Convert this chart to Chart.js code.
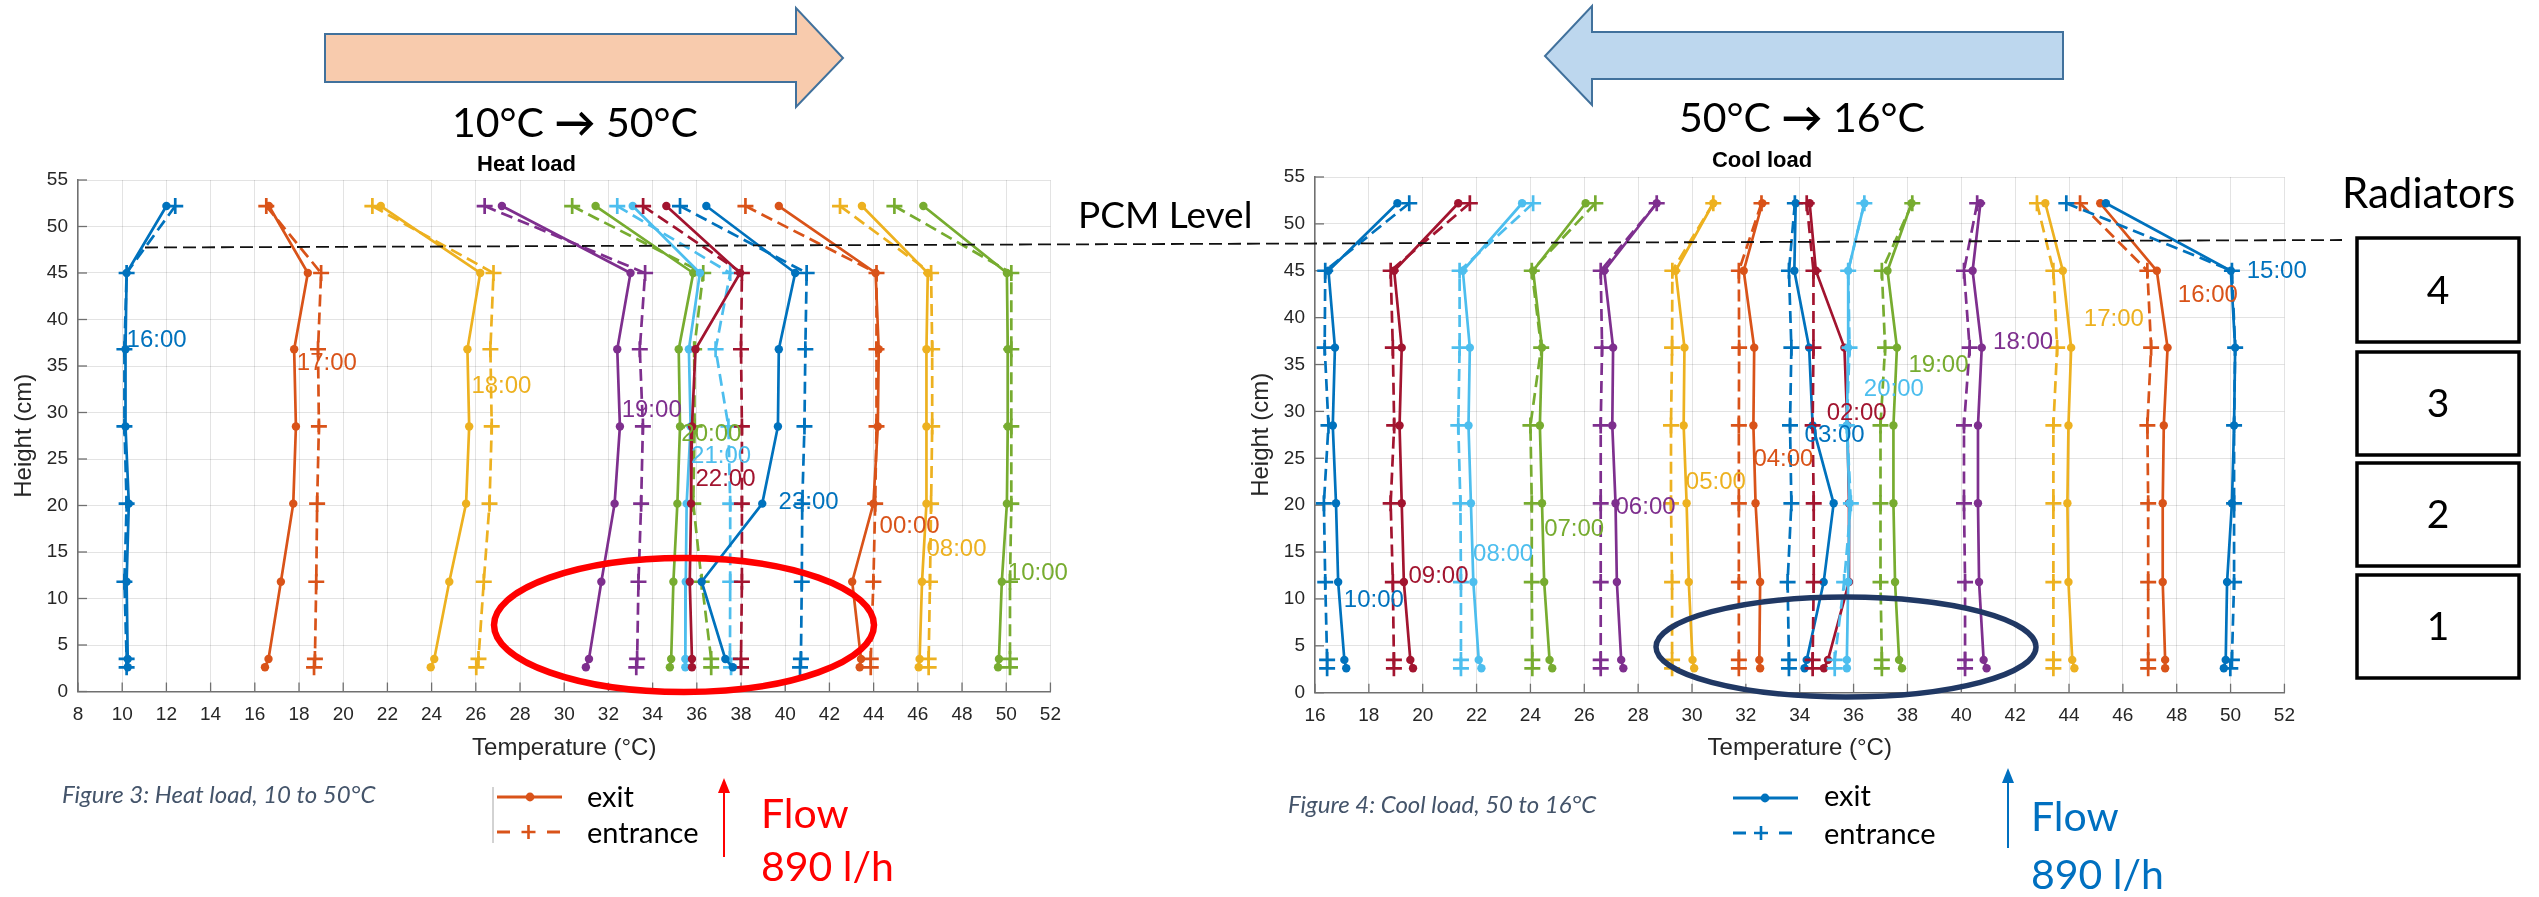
<!DOCTYPE html>
<html>
<head>
<meta charset="utf-8">
<script src="https://cdn.jsdelivr.net/npm/chart.js@4.4.1/dist/chart.umd.min.js"></script>
<style>
  html, body { margin: 0; padding: 0; background: #fff; }
  body { width: 2539px; height: 897px; position: relative; overflow: hidden; }
  canvas { position: absolute; }
  #heat { left: 0; top: 140px; }
  #cool { left: 1237px; top: 140px; }
  svg { position: absolute; left: 0; top: 0; font-family: Lato, "Open Sans", sans-serif; }
</style>
</head>
<body>
<canvas id="heat" width="1073" height="660"></canvas>
<canvas id="cool" width="1070" height="660"></canvas>

<svg width="2539" height="897">
  <!-- big direction arrows -->
  <polygon points="325,34 796,34 796,8 843,58 796,107 796,82 325,82" fill="#F8CBAD" stroke="#41719C" stroke-width="2"/>
  <polygon points="2063,32 1592,32 1592,6 1545,56 1592,105 1592,79 2063,79" fill="#BDD7EE" stroke="#41719C" stroke-width="2"/>
  <text x="575" y="137" font-size="41" text-anchor="middle">10°C <tspan font-weight="bold">→</tspan> 50°C</text>
  <text x="1802" y="132" font-size="41" text-anchor="middle">50°C <tspan font-weight="bold">→</tspan> 16°C</text>

  <!-- PCM level -->
  <line x1="145" y1="247.5" x2="2342" y2="240" stroke="#111" stroke-width="1.8" stroke-dasharray="13 6"/>
  <text x="1078" y="228" font-size="37">PCM Level</text>

  <!-- radiators -->
  <text x="2342" y="208" font-size="42">Radiators</text>
  <g fill="none" stroke="#000" stroke-width="3.5">
    <rect x="2357" y="238" width="162" height="104"/>
    <rect x="2357" y="352" width="162" height="103"/>
    <rect x="2357" y="463" width="162" height="103"/>
    <rect x="2357" y="575" width="162" height="103"/>
  </g>
  <g font-size="39" text-anchor="middle">
    <text x="2438" y="304">4</text>
    <text x="2438" y="417">3</text>
    <text x="2438" y="528">2</text>
    <text x="2438" y="640">1</text>
  </g>

  <!-- highlight ellipses -->
  <ellipse cx="684" cy="625" rx="190" ry="67" fill="none" stroke="#FF0000" stroke-width="6.5"/>
  <ellipse cx="1846" cy="647" rx="190" ry="50" fill="none" stroke="#203864" stroke-width="5.5"/>

  <!-- captions -->
  <text x="62" y="803" font-size="24" font-style="italic" fill="#44546A">Figure 3: Heat load, 10 to 50°C</text>
  <text x="1288" y="813" font-size="24" font-style="italic" fill="#44546A">Figure 4: Cool load, 50 to 16°C</text>

  <!-- left legend -->
  <line x1="493" y1="787" x2="493" y2="843" stroke="#a6a6a6" stroke-width="1"/>
  <line x1="497" y1="797" x2="562" y2="797" stroke="#D95319" stroke-width="3"/>
  <circle cx="530" cy="797" r="4.4" fill="#D95319"/>
  <line x1="497" y1="832" x2="510" y2="832" stroke="#D95319" stroke-width="3"/>
  <line x1="547" y1="832" x2="560" y2="832" stroke="#D95319" stroke-width="3"/>
  <path d="M521.5 832 H535.5 M528.5 825 V839" stroke="#D95319" stroke-width="2.6"/>
  <text x="587" y="807" font-size="29">exit</text>
  <text x="587" y="843" font-size="29">entrance</text>

  <!-- left flow arrow -->
  <line x1="724" y1="857" x2="724" y2="790" stroke="#FF0000" stroke-width="2"/>
  <polygon points="724,778 718,793 730,793" fill="#FF0000"/>
  <text x="761" y="828" font-size="41" fill="#FF0000">Flow</text>
  <text x="761" y="881" font-size="41" fill="#FF0000">890 l/h</text>

  <!-- right legend -->
  <line x1="1733" y1="798" x2="1798" y2="798" stroke="#0072BD" stroke-width="3"/>
  <circle cx="1765" cy="798" r="4.4" fill="#0072BD"/>
  <line x1="1733" y1="833" x2="1746" y2="833" stroke="#0072BD" stroke-width="3"/>
  <line x1="1779" y1="833" x2="1792" y2="833" stroke="#0072BD" stroke-width="3"/>
  <path d="M1754 833 H1768 M1761 826 V840" stroke="#0072BD" stroke-width="2.6"/>
  <text x="1824" y="806" font-size="29">exit</text>
  <text x="1824" y="844" font-size="29">entrance</text>

  <!-- right flow arrow -->
  <line x1="2008" y1="848" x2="2008" y2="780" stroke="#0070C0" stroke-width="2"/>
  <polygon points="2008,768 2002,783 2014,783" fill="#0070C0"/>
  <text x="2031" y="831" font-size="41" fill="#0070C0">Flow</text>
  <text x="2031" y="889" font-size="41" fill="#0070C0">890 l/h</text>
</svg>

<script>
// measurement heights (cm), shared by every profile
const heights = [52.2, 45, 36.8, 28.5, 20.2, 11.8, 3.5, 2.6];

// heat load, 10 -> 50 °C
const heatTimes = ['16:00', '17:00', '18:00', '19:00', '20:00', '21:00', '22:00', '23:00', '00:00', '08:00', '10:00'];
const heatExit = [
  [12.0, 10.2, 10.15, 10.15, 10.3, 10.2, 10.25, 10.25],
  [16.64, 18.4, 17.78, 17.86, 17.74, 17.18, 16.62, 16.46],
  [21.7, 26.2, 25.62, 25.7, 25.56, 24.8, 24.12, 23.96],
  [27.18, 33.0, 32.4, 32.52, 32.28, 31.68, 31.12, 30.98],
  [31.42, 35.84, 35.18, 35.24, 35.12, 34.94, 34.84, 34.78],
  [33.1, 36.14, 35.64, 35.72, 35.54, 35.5, 35.48, 35.48],
  [34.62, 37.96, 35.94, 35.78, 35.74, 35.68, 35.78, 35.78],
  [36.43, 40.45, 39.71, 39.67, 38.96, 36.22, 37.29, 37.63],
  [39.71, 44.09, 44.23, 44.19, 43.99, 43.03, 43.43, 43.37],
  [43.47, 46.45, 46.39, 46.39, 46.39, 46.19, 46.08, 46.04],
  [46.25, 50.03, 50.07, 50.07, 50.03, 49.8, 49.67, 49.63]
];
const heatEntrance = [
  [12.4, 10.2, 10.1, 10.1, 10.2, 10.1, 10.2, 10.2],
  [16.52, 19.0, 18.86, 18.9, 18.82, 18.78, 18.72, 18.68],
  [21.32, 26.8, 26.66, 26.72, 26.62, 26.36, 26.12, 26.02],
  [26.4, 33.66, 33.42, 33.56, 33.48, 33.36, 33.3, 33.26],
  [30.36, 36.29, 35.88, 35.9, 35.84, 36.22, 36.65, 36.65],
  [32.4, 37.51, 36.85, 37.43, 37.51, 37.51, 37.5, 37.55],
  [33.57, 38.04, 38.0, 38.04, 38.04, 38.04, 38.0, 38.0],
  [35.24, 40.97, 40.91, 40.87, 40.77, 40.75, 40.71, 40.67],
  [38.2, 44.13, 44.13, 44.13, 44.07, 43.99, 43.87, 43.87],
  [42.48, 46.6, 46.65, 46.65, 46.6, 46.55, 46.49, 46.49],
  [44.94, 50.23, 50.23, 50.23, 50.23, 50.17, 50.17, 50.17]
];
const heatLabelT = [10.2, 17.9, 25.8, 32.6, 35.3, 35.74, 35.94, 39.7, 44.27, 46.39, 50.07];
const heatLabelH = [37.8, 35.3, 32.8, 30.2, 27.7, 25.3, 22.8, 20.3, 17.8, 15.3, 12.7];

// cool load, 50 -> 16 °C
const coolTimes = ['10:00', '09:00', '08:00', '07:00', '06:00', '05:00', '04:00', '03:00', '02:00', '20:00', '19:00', '18:00', '17:00', '16:00', '15:00'];
const coolExit = [
  [19.06, 16.5, 16.74, 16.66, 16.78, 16.86, 17.09, 17.16],
  [21.32, 18.94, 19.22, 19.14, 19.22, 19.3, 19.54, 19.64],
  [23.69, 21.49, 21.75, 21.7, 21.79, 21.88, 22.08, 22.18],
  [26.05, 24.1, 24.43, 24.35, 24.43, 24.51, 24.71, 24.81],
  [28.69, 26.74, 27.07, 27.04, 27.16, 27.21, 27.37, 27.45],
  [30.79, 29.39, 29.72, 29.69, 29.8, 29.88, 30.02, 30.08],
  [32.61, 31.92, 32.31, 32.28, 32.36, 32.53, 32.5, 32.53],
  [33.85, 33.8, 34.35, 34.48, 35.26, 34.89, 34.26, 34.18],
  [34.37, 34.6, 35.66, 35.77, 35.83, 35.83, 35.05, 34.9],
  [36.4, 35.8, 35.8, 35.75, 35.85, 35.8, 35.75, 35.75],
  [38.15, 37.26, 37.61, 37.48, 37.48, 37.54, 37.69, 37.8],
  [40.71, 40.42, 40.76, 40.62, 40.62, 40.66, 40.83, 40.94],
  [43.12, 43.77, 44.08, 43.98, 43.94, 43.98, 44.12, 44.2],
  [45.16, 47.26, 47.66, 47.52, 47.48, 47.48, 47.57, 47.57],
  [45.37, 50.01, 50.17, 50.13, 50.05, 49.87, 49.82, 49.75]
];
const coolEntrance = [
  [19.5, 16.38, 16.36, 16.5, 16.33, 16.38, 16.45, 16.45],
  [21.75, 18.81, 18.89, 18.94, 18.81, 18.89, 18.93, 18.93],
  [24.1, 21.37, 21.37, 21.32, 21.4, 21.42, 21.42, 21.42],
  [26.41, 24.05, 24.4, 24.0, 24.05, 24.05, 24.07, 24.07],
  [28.69, 26.61, 26.66, 26.61, 26.61, 26.61, 26.61, 26.61],
  [30.79, 29.27, 29.26, 29.22, 29.22, 29.26, 29.26, 29.26],
  [32.58, 31.74, 31.75, 31.74, 31.74, 31.74, 31.74, 31.74],
  [33.82, 33.6, 33.69, 33.64, 33.69, 33.55, 33.6, 33.6],
  [34.26, 34.51, 34.51, 34.48, 34.52, 34.52, 34.48, 34.48],
  [36.4, 35.8, 35.85, 35.75, 35.9, 35.65, 35.3, 35.3],
  [38.18, 37.05, 37.17, 37.0, 37.0, 37.0, 37.05, 37.05],
  [40.59, 40.1, 40.31, 40.1, 40.1, 40.14, 40.14, 40.14],
  [42.81, 43.42, 43.56, 43.42, 43.42, 43.42, 43.42, 43.42],
  [44.41, 46.91, 47.05, 46.91, 46.94, 46.94, 46.94, 46.94],
  [43.9, 50.05, 50.17, 50.13, 50.13, 50.13, 50.05, 49.99]
];
const coolLabelT = [17.07, 19.47, 21.87, 24.51, 27.16, 29.77, 32.28, 34.18, 35.0, 36.38, 38.04, 41.18, 44.55, 48.04, 50.6];
const coolLabelH = [9.8, 12.4, 14.8, 17.4, 19.8, 22.4, 24.9, 27.4, 29.8, 32.4, 34.9, 37.4, 39.8, 42.4, 44.9];

// matlab default colour order
const BLUE = '#0072BD', ORANGE = '#D95319', YELLOW = '#EDB120', PURPLE = '#7E2F8E',
      GREEN = '#77AC30', CYAN = '#4DBEEE', RED = '#A2142F';
const heatColors = [BLUE, ORANGE, YELLOW, PURPLE, GREEN, CYAN, RED, BLUE, ORANGE, YELLOW, GREEN];
const coolColors = [BLUE, RED, CYAN, GREEN, PURPLE, YELLOW, ORANGE, BLUE, RED, CYAN, GREEN, PURPLE, YELLOW, ORANGE, BLUE];

Chart.defaults.font.family = '"Liberation Sans", Arial, sans-serif';
Chart.defaults.color = '#262626';

function puntos(temps) {
  return temps.map((t, i) => ({ x: t, y: heights[i] }));
}

function construirDatasets(exit, entrance, colors) {
  const datasets = [];
  exit.forEach((serie, i) => {
    datasets.push({
      data: puntos(serie),
      borderColor: colors[i],
      backgroundColor: colors[i],
      borderWidth: 2.7,
      pointStyle: 'circle',
      pointRadius: 4.2,
      pointBorderWidth: 0,
      order: -2 * i
    });
    datasets.push({
      data: puntos(entrance[i]),
      borderColor: colors[i],
      backgroundColor: colors[i],
      borderWidth: 2.7,
      borderDash: [12, 6],
      pointStyle: 'cross',
      pointRadius: 8,
      pointBorderWidth: 2.7,
      order: -2 * i - 1
    });
  });
  return datasets;
}

// matlab style ticks pointing into the plot
const ticksAdentro = {
  id: 'ticksAdentro',
  beforeDatasetsDraw(chart) {
    const { ctx, chartArea: a, scales: { x, y } } = chart;
    ctx.save();
    ctx.strokeStyle = '#707070';
    ctx.lineWidth = 1.3;
    x.ticks.forEach(t => {
      const px = x.getPixelForValue(t.value);
      ctx.beginPath();
      ctx.moveTo(px, a.bottom);
      ctx.lineTo(px, a.bottom - 9);
      ctx.stroke();
    });
    y.ticks.forEach(t => {
      const py = y.getPixelForValue(t.value);
      ctx.beginPath();
      ctx.moveTo(a.left, py);
      ctx.lineTo(a.left + 9, py);
      ctx.stroke();
    });
    ctx.restore();
  }
};

// hour labels next to each profile
const etiquetasHora = {
  id: 'etiquetasHora',
  afterDatasetsDraw(chart, args, opts) {
    const { ctx, scales: { x, y } } = chart;
    ctx.save();
    ctx.font = '24px "Liberation Sans", Arial, sans-serif';
    ctx.textAlign = 'left';
    ctx.textBaseline = 'middle';
    opts.texts.forEach((txt, i) => {
      ctx.fillStyle = opts.colors[i];
      ctx.fillText(txt, x.getPixelForValue(opts.t[i]), y.getPixelForValue(opts.h[i]));
    });
    ctx.restore();
  }
};

function crearGrafico(id, cfg) {
  const ctx = document.getElementById(id).getContext('2d');
  return new Chart(ctx, {
    type: 'scatter',
    data: { datasets: construirDatasets(cfg.exit, cfg.entrance, cfg.colors) },
    plugins: [ticksAdentro, etiquetasHora],
    options: {
      responsive: false,
      animation: false,
      events: [],
      showLine: true,
      layout: { padding: { top: 0, left: 0, right: 20, bottom: 0 } },
      plugins: {
        legend: { display: false },
        tooltip: { enabled: false },
        title: {
          display: true,
          text: cfg.title,
          color: '#000',
          font: { size: 22, weight: 'bold' },
          padding: cfg.titlePadding
        },
        etiquetasHora: { texts: cfg.times, t: cfg.labelT, h: cfg.labelH, colors: cfg.colors }
      },
      scales: {
        x: {
          type: 'linear',
          min: cfg.xMin,
          max: 52,
          afterFit: s => { s.height = cfg.xHeight; },
          ticks: { stepSize: 2, autoSkip: false, maxRotation: 0, padding: 12, font: { size: 19 }, color: '#262626' },
          grid: { color: 'rgba(38,38,38,0.13)', drawTicks: false },
          border: { display: true, color: '#707070', width: 1.5 },
          title: { display: true, text: 'Temperature (°C)', font: { size: 24 }, color: '#262626', padding: { top: 0, bottom: 37.6 } }
        },
        y: {
          min: 0,
          max: 55,
          afterFit: s => { s.width = 78; },
          ticks: { stepSize: 5, padding: 10, font: { size: 19 }, color: '#262626' },
          grid: { color: 'rgba(38,38,38,0.13)', drawTicks: false },
          border: { display: true, color: '#707070', width: 1.5 },
          title: { display: true, text: 'Height (cm)', font: { size: 24 }, color: '#262626', padding: { top: 10, bottom: 0 } }
        }
      }
    }
  });
}

crearGrafico('heat', {
  title: 'Heat load',
  titlePadding: { top: 11.8, bottom: 1.8 },
  xMin: 8,
  xHeight: 108.5,
  exit: heatExit,
  entrance: heatEntrance,
  colors: heatColors,
  times: heatTimes,
  labelT: heatLabelT,
  labelH: heatLabelH
});

crearGrafico('cool', {
  title: 'Cool load',
  titlePadding: { top: 7.8, bottom: 2.8 },
  xMin: 16,
  xHeight: 107.3,
  exit: coolExit,
  entrance: coolEntrance,
  colors: coolColors,
  times: coolTimes,
  labelT: coolLabelT,
  labelH: coolLabelH
});
</script>
</body>
</html>
